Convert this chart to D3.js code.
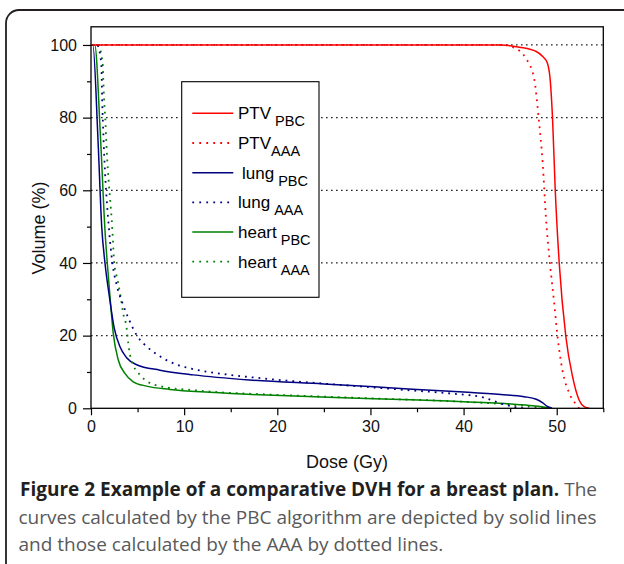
<!DOCTYPE html>
<html><head><meta charset="utf-8">
<script src="https://cdn.jsdelivr.net/npm/d3@7"></script>
<style>
html,body{margin:0;padding:0;background:#fff;}
svg{display:block;}
</style></head>
<body>
<script>
// ---- data (dose Gy, volume %) ----
const ptvPBC = [[0,100],[44,100],[46,99.4],[47.8,98.2],[48.5,96.8],[49,95],[49.3,90.4],[49.55,79.8],[49.84,60.1],[50.27,39.9],[50.98,19.7],[51.7,8.7],[52.4,2.3],[52.95,0.45],[53.5,0]];
const ptvAAA = [[0,100],[44.2,100],[45.3,99.4],[46.7,96.3],[47.6,90.4],[48.05,80.1],[48.5,67.2],[48.84,52.5],[49.27,39.9],[49.73,28.9],[50.09,19.7],[50.6,10.6],[51.34,4.2],[52.06,1.1],[52.4,0]];
const lungPBC = [[0,100],[0.2,100],[0.75,74],[1.15,50],[1.5,40],[1.96,31],[2.5,22],[3.1,17],[3.8,14],[4.9,12],[7.4,10.5],[11,9.2],[17,7.8],[25,6.7],[30.4,5.9],[35,5.2],[40,4.5],[44,3.8],[46.5,3.2],[47.8,2.5],[48.5,1.5],[49,0.5],[49.5,0]];
const lungAAA = [[0,100],[0.65,100],[1.1,95],[1.2,85],[1.35,74],[1.95,48.8],[2.3,40],[2.75,34],[3.46,28.4],[4.1,24.3],[4.96,19.9],[5.68,17.7],[6.5,15.9],[7.4,14.3],[9,12.2],[10.8,10.9],[14,9.5],[17.4,8.5],[22,7.4],[26,6.6],[30,5.8],[34,5.0],[38.5,4.1],[42.1,3.0],[43.5,1.8],[45.2,0.5],[46,0.15],[47,0]];
const heartPBC = [[0,100],[0.4,100],[1.03,74],[1.5,49],[1.75,39.9],[2.04,30.7],[2.39,20.6],[2.93,13.3],[3.64,9.6],[4.53,7.3],[5.97,6.1],[8.47,5.2],[12.75,4.4],[18.1,3.7],[24,3.2],[30.4,2.65],[35.2,2.3],[40,1.8],[43.8,1.4],[46,1.0],[47.7,0.6],[49.4,0]];
const heartAAA = [[0,100],[0.75,100],[1.25,95],[1.32,90.4],[1.39,85.8],[1.53,79.8],[1.65,73],[2.3,48.8],[2.5,39.9],[2.86,35.3],[3.18,30.7],[3.46,26.1],[3.83,22],[4.0,17.9],[4.26,13.8],[5.25,9.2],[6.1,7.3],[7.75,5.9],[11,5.0],[14.5,4.3],[18.1,3.9],[24,3.3],[30.4,2.7],[35.2,2.3],[40,1.8],[44,1.2],[46.5,0.7],[48,0.3],[49,0]];

const seriesNames = ["PTV","PTV","lung","lung","heart","heart"];
const seriesSubs  = ["PBC","AAA","PBC","AAA","PBC","AAA"];
const seriesColors = ["#ff0000","#ff0000","#000080","#000080","#008000","#008000"];
const seriesDotted = [false,true,false,true,false,true];
const seriesData = [ptvPBC, ptvAAA, lungPBC, lungAAA, heartPBC, heartAAA];

const xMajor = [0,10,20,30,40,50];
const xMinor = [5,15,25,35,45,55];
const yMajor = [0,20,40,60,80,100];
const yMinor = [10,30,50,70,90];
const gridVals = [20,40,60,80,100];

const xTitle = "Dose (Gy)";
const yTitle = "Volume (%)";
const captionBold = "Figure 2 Example of a comparative DVH for a breast plan.";
const captionLines = [" The","curves calculated by the PBC algorithm are depicted by solid lines","and those calculated by the AAA by dotted lines."];

// ---- layout ----
const W = 624, H = 564;
const L = 91, R = 603.3, T = 26.8, B = 408.3;

const svg = d3.select("body").append("svg").attr("width", W).attr("height", H);
svg.append("rect").attr("width", W).attr("height", H).attr("fill", "#fff");

// outer rounded border
svg.append("rect").attr("x", 6).attr("y", 10).attr("width", 632).attr("height", 600)
  .attr("rx", 13).attr("fill", "none").attr("stroke", "#231f20").attr("stroke-width", 1.8);

const x = d3.scaleLinear().domain([0, 55]).range([L, R]);
const y = d3.scaleLinear().domain([0, 105]).range([B, T]);

const font = "Liberation Sans, Arial, sans-serif";

// grid
svg.append("g").selectAll("line").data(gridVals).join("line")
  .attr("x1", L).attr("x2", R)
  .attr("y1", d => y(d)).attr("y2", d => y(d))
  .attr("stroke", "#222").attr("stroke-width", 1.2).attr("stroke-dasharray", "1.6,3.4");

// curves
svg.append("clipPath").attr("id", "clip").append("rect")
  .attr("x", L).attr("y", T).attr("width", R - L).attr("height", B - T);
const line = d3.line().x(d => x(d[0])).y(d => y(d[1])).curve(d3.curveMonotoneX);
const gCurves = svg.append("g").attr("clip-path", "url(#clip)");
const order = [4, 2, 0, 5, 3, 1];
order.forEach(i => {
  gCurves.append("path").datum(seriesData[i]).attr("d", line)
    .attr("fill", "none").attr("stroke", seriesColors[i])
    .attr("stroke-width", seriesDotted[i] ? 1.8 : 1.5)
    .attr("stroke-dasharray", seriesDotted[i] ? "1.8,5" : null)
    .attr("stroke-linecap", "butt");
});

// legend
const lg = svg.append("g");
lg.append("rect").attr("x", 181.7).attr("y", 81.7).attr("width", 137.3).attr("height", 215.6)
  .attr("fill", "#fff").attr("stroke", "#000").attr("stroke-width", 1.1);
const ly = d3.scalePoint().domain(d3.range(6)).range([113.3, 261.7]);
d3.range(6).forEach(i => {
  const yy = ly(i);
  lg.append("line").attr("x1", 192.3).attr("x2", 233.3).attr("y1", yy).attr("y2", yy)
    .attr("stroke", seriesColors[i]).attr("stroke-width", seriesDotted[i] ? 1.8 : 1.5)
    .attr("stroke-dasharray", seriesDotted[i] ? "1.8,5.2" : null);
  const t = lg.append("text").attr("x", i === 2 ? 242 : 238).attr("y", yy + 6)
    .attr("font-family", font).attr("font-size", 17).attr("fill", "#000");
  t.append("tspan").text(seriesNames[i]);
  t.append("tspan").attr("dy", 7).attr("dx", i === 1 ? 0 : 4).attr("font-size", 14.5).text(seriesSubs[i]);
});

// axes
const axG = svg.append("g").attr("font-family", font);
axG.append("g").attr("transform", `translate(0,${B})`)
  .call(d3.axisBottom(x).tickValues(xMinor).tickSize(4).tickFormat(""))
  .call(g => g.select(".domain").remove())
  .call(g => g.selectAll("line").attr("stroke", "#000").attr("stroke-width", 1.2));
axG.append("g").attr("transform", `translate(0,${B})`)
  .call(d3.axisBottom(x).tickValues(xMajor).tickSize(7).tickPadding(5).tickFormat(d3.format("d")))
  .call(g => g.attr("font-family", font).attr("font-size", 16))
  .call(g => g.select(".domain").remove())
  .call(g => g.selectAll("line").attr("stroke", "#000").attr("stroke-width", 1.2))
  .call(g => g.selectAll("text").attr("fill", "#111"));
axG.append("g").attr("transform", `translate(${L},0)`)
  .call(d3.axisLeft(y).tickValues(yMinor).tickSize(4).tickFormat(""))
  .call(g => g.select(".domain").remove())
  .call(g => g.selectAll("line").attr("stroke", "#000").attr("stroke-width", 1.2));
axG.append("g").attr("transform", `translate(${L},0)`)
  .call(d3.axisLeft(y).tickValues(yMajor).tickSize(8).tickPadding(6).tickFormat(d3.format("d")))
  .call(g => g.attr("font-family", font).attr("font-size", 16))
  .call(g => g.select(".domain").remove())
  .call(g => g.selectAll("line").attr("stroke", "#000").attr("stroke-width", 1.2))
  .call(g => g.selectAll("text").attr("fill", "#111"));

// frame
svg.append("rect").attr("x", L).attr("y", T).attr("width", R - L).attr("height", B - T)
  .attr("fill", "none").attr("stroke", "#000").attr("stroke-width", 1.3);

// axis titles
svg.append("text").attr("x", 347).attr("y", 468).attr("text-anchor", "middle")
  .attr("font-family", font).attr("font-size", 18).attr("fill", "#111").text(xTitle);
svg.append("text").attr("transform", `translate(45,${228}) rotate(-90)`)
  .attr("text-anchor", "middle").attr("font-family", font).attr("font-size", 18)
  .attr("fill", "#111").text(yTitle);

// caption
const capFont = "Open Sans, Noto Sans, sans-serif";
const c1 = svg.append("text").attr("x", 20).attr("y", 496).attr("font-family", capFont)
  .attr("font-size", 19);
c1.append("tspan").attr("font-weight", "bold").attr("fill", "#231f20").text(captionBold);
c1.append("tspan").attr("fill", "#58595b").attr("dx", 5).text(captionLines[0].trim());
svg.append("text").attr("x", 18.5).attr("y", 523.5).attr("font-family", capFont)
  .attr("font-size", 19).attr("fill", "#58595b").text(captionLines[1]);
svg.append("text").attr("x", 18.5).attr("y", 550.5).attr("font-family", capFont)
  .attr("font-size", 19).attr("fill", "#58595b").text(captionLines[2]);
</script>
</body></html>
